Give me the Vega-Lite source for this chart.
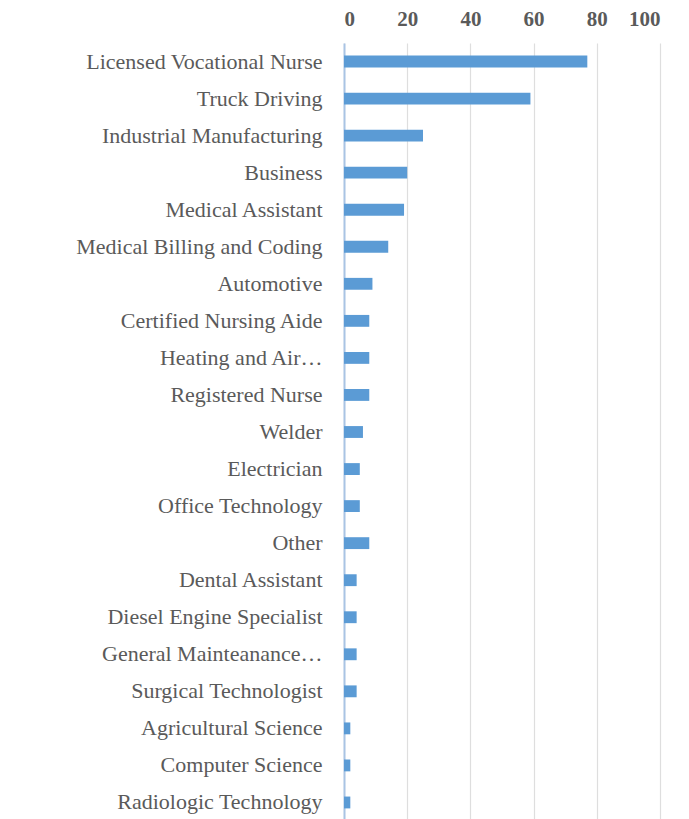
{
  "$schema": "https://vega.github.io/schema/vega-lite/v6.json",
  "autosize": {"type": "none"},
  "width": 316,
  "height": 778,
  "padding": {"left": 344, "top": 43, "right": 29, "bottom": 0},
  "background": "white",
  "data": {
    "values": [
      {"program": "Licensed Vocational Nurse", "count": 77},
      {"program": "Truck Driving", "count": 59},
      {"program": "Industrial Manufacturing", "count": 25},
      {"program": "Business", "count": 20},
      {"program": "Medical Assistant", "count": 19},
      {"program": "Medical Billing and Coding", "count": 14},
      {"program": "Automotive", "count": 9},
      {"program": "Certified Nursing Aide", "count": 8},
      {"program": "Heating and Air…", "count": 8},
      {"program": "Registered Nurse", "count": 8},
      {"program": "Welder", "count": 6},
      {"program": "Electrician", "count": 5},
      {"program": "Office Technology", "count": 5},
      {"program": "Other", "count": 8},
      {"program": "Dental Assistant", "count": 4},
      {"program": "Diesel Engine Specialist", "count": 4},
      {"program": "General Mainteanance…", "count": 4},
      {"program": "Surgical Technologist", "count": 4},
      {"program": "Agricultural Science", "count": 2},
      {"program": "Computer Science", "count": 2},
      {"program": "Radiologic Technology", "count": 2}
    ]
  },
  "mark": {"type": "bar", "color": "#5b9bd5"},
  "encoding": {
    "y": {
      "field": "program",
      "type": "nominal",
      "sort": null,
      "title": null,
      "scale": {"paddingInner": 0.68, "paddingOuter": 0.34},
      "axis": {
        "ticks": false,
        "labelPadding": 22,
        "labelFont": "Liberation Serif",
        "labelFontSize": 22,
        "labelColor": "#5a5a5a",
        "labelLimit": 400,
        "domainColor": "#a9c4e4",
        "domainWidth": 2
      }
    },
    "x": {
      "field": "count",
      "type": "quantitative",
      "title": null,
      "scale": {"domain": [0, 100], "nice": false},
      "axis": {
        "orient": "top",
        "values": [0, 20, 40, 60, 80, 100],
        "ticks": false,
        "domain": false,
        "labelPadding": 14,
        "labelFont": "Liberation Serif",
        "labelFontSize": 21,
        "labelFontWeight": "bold",
        "labelColor": "#5a5a5a",
        "gridColor": "#dedede",
        "gridWidth": 1.2
      }
    }
  },
  "config": {"view": {"stroke": null}}
}
